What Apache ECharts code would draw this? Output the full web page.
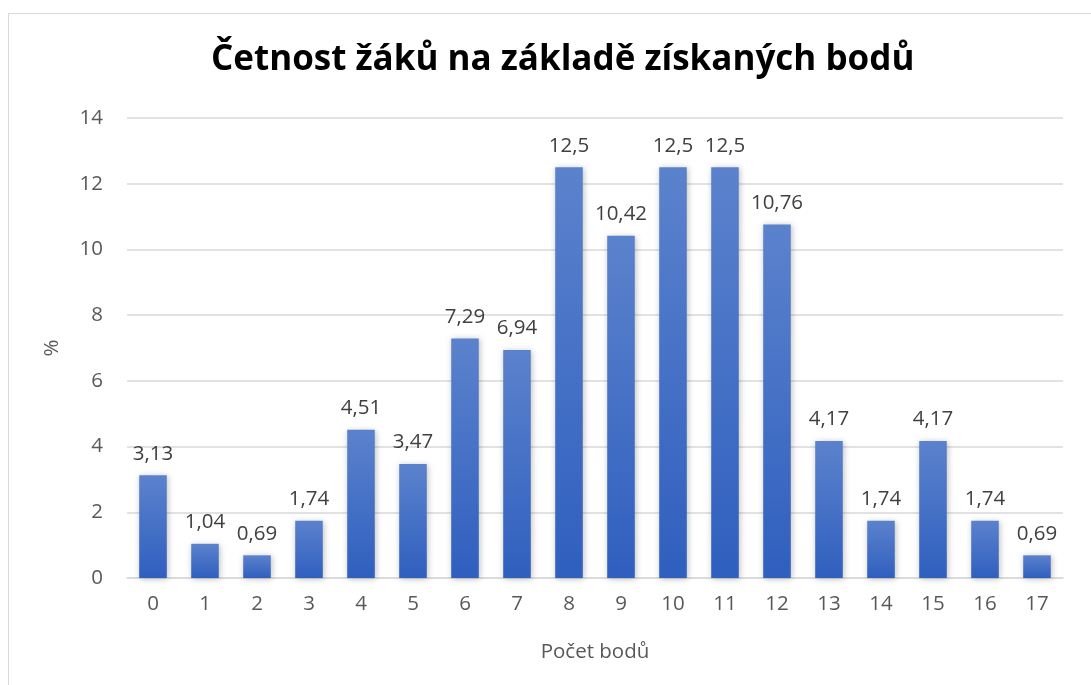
<!DOCTYPE html>
<html>
<head>
<meta charset="utf-8">
<script src="https://cdn.jsdelivr.net/npm/echarts@6/dist/echarts.min.js"></script>
<style>
  html, body { margin: 0; padding: 0; background: #fff; }
  #frame {
    position: absolute; left: 8px; top: 13px; width: 1090px; height: 680px;
    border: 1px solid #d9d9d9; box-sizing: border-box;
  }
  #chart { position: absolute; left: 0; top: 0; width: 1091px; height: 685px; }
</style>
</head>
<body>
<div id="frame"></div>
<div id="chart"></div>
<script>
// body counts 0..17
const points = ['0', '1', '2', '3', '4', '5', '6', '7', '8', '9', '10', '11', '12', '13', '14', '15', '16', '17']
// share of pupils in %
const percent = [3.13, 1.04, 0.69, 1.74, 4.51, 3.47, 7.29, 6.94, 12.5, 10.42, 12.5, 12.5, 10.76, 4.17, 1.74, 4.17, 1.74, 0.69]

const font = "'Open Sans', 'Noto Sans', sans-serif"
const gray = '#595959'
const fs = 20.5

const chart = echarts.init(document.getElementById('chart'))
chart.setOption({
  animation: false,
  backgroundColor: 'transparent',
  title: {
    text: 'Četnost žáků na základě získaných bodů',
    left: 206,
    top: 38,
    textStyle: { fontFamily: font, fontSize: 35, fontWeight: 'bold', color: '#000' },
  },
  grid: { left: 127, right: 28, top: 118, bottom: 107 },
  xAxis: {
    type: 'category',
    data: points,
    name: 'Počet bodů',
    nameLocation: 'middle',
    nameGap: 64,
    nameTextStyle: { fontFamily: font, fontSize: fs, color: gray },
    axisLine: { lineStyle: { color: '#d9d9d9', width: 1.5 } },
    axisTick: { show: false },
    axisLabel: { fontFamily: font, fontSize: fs, color: gray, margin: 16 },
  },
  yAxis: {
    type: 'value',
    min: 0,
    max: 14,
    interval: 2,
    name: '%',
    nameLocation: 'middle',
    nameGap: 64,
    nameTextStyle: { fontFamily: font, fontSize: fs, color: gray },
    axisLine: { show: false },
    axisTick: { show: false },
    axisLabel: { fontFamily: font, fontSize: fs, color: gray, margin: 24 },
    splitLine: { lineStyle: { color: '#d9d9d9', width: 1.5 } },
  },
  series: [{
    type: 'bar',
    data: percent,
    barWidth: '53%',
    itemStyle: {
      color: new echarts.graphic.LinearGradient(0, 0, 0, 1, [
        { offset: 0, color: '#5b82cc' },
        { offset: 1, color: '#2f5fbf' },
      ]),
      shadowColor: 'rgba(0,0,0,0.25)',
      shadowBlur: 6,
      shadowOffsetX: 1,
      shadowOffsetY: 1,
    },
    label: {
      show: true,
      position: 'top',
      distance: 11,
      fontFamily: font,
      fontSize: fs,
      color: '#404040',
      formatter: (p) => String(p.value).replace('.', ','),
    },
  }],
})
</script>
</body>
</html>
